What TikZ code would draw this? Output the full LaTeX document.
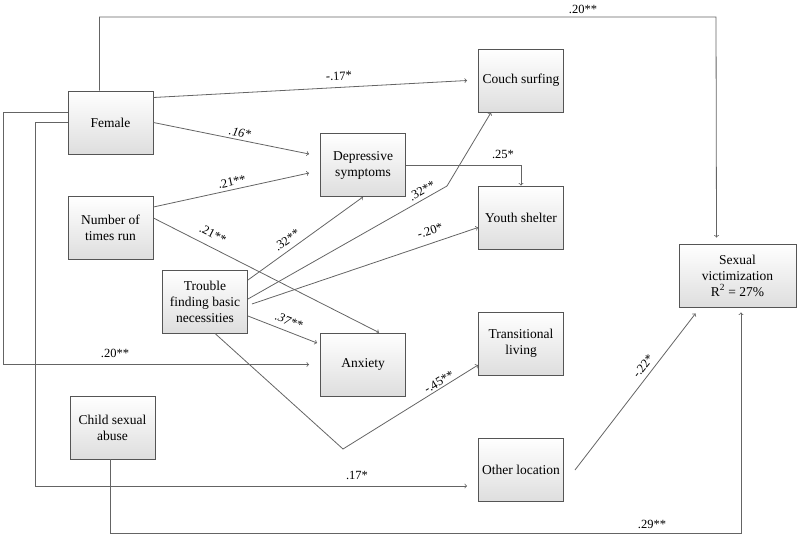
\documentclass[tikz,border=0pt]{standalone}
\usepackage{fontspec}
\setmainfont{Liberation Serif}
\usepackage{tikz}
\usetikzlibrary{calc}

\definecolor{linegray}{RGB}{100,100,100}
\definecolor{boxgray}{RGB}{85,85,85}

\tikzset{
  var/.style={draw=boxgray, line width=0.9pt, top color=white, bottom color=black!13,
    minimum width=85pt, minimum height=63pt, align=center, font=\fontsize{13.5}{16}\selectfont},
  arr/.style={draw=linegray, line width=0.8pt, ->},
  lbl/.style={font=\fontsize{12.5}{14}\selectfont, inner sep=0pt}
}

\begin{document}
\begin{tikzpicture}[x=1pt,y=-1pt]
    \useasboundingbox (0,0) rectangle (800,539);

    % variables
    \node [var] (fem) at (110.5,122.5) {Female};
    \node [var] (num) at (110.5,228) {Number of\\times run};
    \node [var] (tro) at (205,301.5) {Trouble\\finding basic\\necessities};
    \node [var] (csa) at (112.5,427.5) {Child sexual\\abuse};
    \node [var] (dep) at (363,165) {Depressive\\symptoms};
    \node [var] (anx) at (363,364.5) {Anxiety};
    \node [var] (couch) at (521,80.5) {Couch surfing};
    \node [var] (youth) at (521,217.5) {Youth shelter};
    \node [var] (trans) at (521,343.5) {Transitional\\living};
    \node [var] (other) at (521,470) {Other location};
    \node [var, minimum width=117pt] (sexvic) at (737.5,275.5) {Sexual\\victimization\\R\textsuperscript{2} = 27\%};

    \coordinate (topcorner) at (716,17);
    \coordinate (trobend) at (447,186);
    \coordinate (trovertex) at (343,449);

    % paths
    \draw [arr] ([xshift=-11pt]fem.north) |- (topcorner) -- ([xshift=-21pt,yshift=6pt]sexvic.north);
    \draw [arr] ([yshift=25pt]fem.east) -- ([xshift=-11pt]couch.west);
    \draw [arr] (fem.east) -- ([xshift=-11pt,yshift=11pt]dep.west);
    \draw [arr] ([yshift=21pt]num.east) -- ([xshift=-11pt,yshift=-8pt]dep.west);
    \draw [arr] ([yshift=10pt]num.east) -- ([xshift=16pt]anx.north);
    \draw [arr] ([yshift=21.5pt]tro.east) -- (dep.south);
    \draw [arr] ([yshift=2.5pt]tro.east) -- (trobend) -- ([xshift=-30pt]couch.south);
    \draw [arr] ([xshift=4pt,yshift=-2.5pt]tro.east) -- ([yshift=-10pt]youth.west);
    \draw [arr] ([yshift=-14.5pt]tro.east) -- ([xshift=-3pt,yshift=21.5pt]anx.west);
    \draw [arr] ([xshift=10pt]tro.south) -- (trovertex) -- ([yshift=-21.5pt]trans.west);
    \draw [arr] ([yshift=10pt]fem.west) -- ++(-64,0) |- ([xshift=-11pt]anx.west);
    \draw [arr] (fem.west) -- ++(-32,0) |- ([xshift=-11pt,yshift=-16pt]other.west);
    \draw [arr] ([xshift=-2.5pt]csa.south) -- ++(0,74) -| ([xshift=3.5pt,yshift=-5pt]sexvic.south);
    \draw [arr] ([xshift=11pt]other.east) -- ([xshift=17pt,yshift=-6pt]sexvic.south west);
    \draw [arr] (dep.east) -| (youth.north);

    % coefficients
    \node [lbl] (l1) at (583,9) {.20**};
    \node [lbl, rotate=3] (l2) at (339,76) {-.17*};
    \node [lbl, rotate=-11] (l3) at (240,133) {\itshape .16*};
    \node [lbl, rotate=12] (l4) at (232,182) {.21**};
    \node [lbl, rotate=-27] (l5) at (213,234) {.21**};
    \node [lbl, rotate=35] (l6) at (287,240) {.32**};
    \node [lbl, rotate=30] (l7) at (422,191) {.32**};
    \node [lbl, rotate=18] (l8) at (430,231) {-.20*};
    \node [lbl, rotate=-21] (l9) at (289,321) {\itshape .37**};
    \node [lbl, rotate=31] (l10) at (439,382) {-.45**};
    \node [lbl] (l11) at (115,353) {.20**};
    \node [lbl] (l12) at (357,475) {.17*};
    \node [lbl] (l13) at (652,524) {.29**};
    \node [lbl, rotate=52] (l14) at (643,366) {-.22*};
    \node [lbl] (l15) at (503,154) {.25*};
  \end{tikzpicture}
\end{document}
